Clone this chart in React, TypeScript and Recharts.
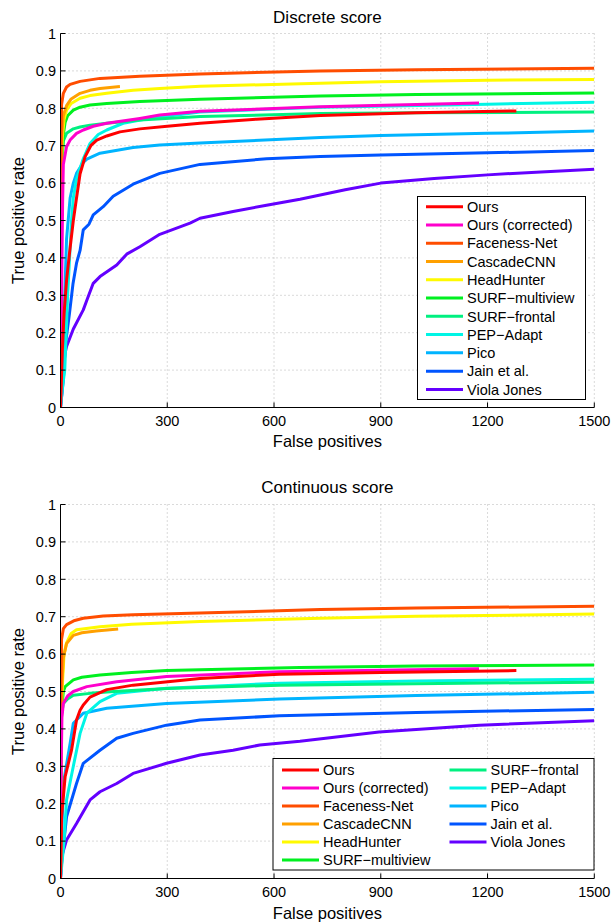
import React from 'react';
import { LineChart, Line, XAxis, YAxis, CartesianGrid } from 'recharts';

type Pt = [number, number];

const FONT = '"Liberation Sans", Arial, Helvetica, sans-serif';

const SERIES_NAMES = [
  'Ours',
  'Ours (corrected)',
  'Faceness-Net',
  'CascadeCNN',
  'HeadHunter',
  'SURF\u2212multiview',
  'SURF\u2212frontal',
  'PEP\u2212Adapt',
  'Pico',
  'Jain et al.',
  'Viola Jones',
];

const SERIES_COLORS = [
  '#FF0000',
  '#FF00CC',
  '#FF4D00',
  '#FFA000',
  '#FFFA00',
  '#00F020',
  '#00F080',
  '#00F5E5',
  '#00B4FF',
  '#0055FF',
  '#6400FF',
];

const X_TICKS = [0, 300, 600, 900, 1200, 1500];
const Y_TICKS = [0, 0.1, 0.2, 0.3, 0.4, 0.5, 0.6, 0.7, 0.8, 0.9, 1];

// ---------- Discrete score ----------
const OURS_D: Pt[] = [[0,0],[5,0.15],[10,0.25],[17,0.34],[25,0.41],[36,0.5],[45,0.56],[55,0.625],[69,0.67],[85,0.7],[102,0.715],[130,0.726],[167,0.737],[223,0.745],[300,0.752],[392,0.76],[550,0.771],[730,0.781],[1000,0.788],[1281,0.793]];
const OURSC_D: Pt[] = [[0,0],[3,0.3],[6,0.55],[8,0.65],[17,0.697],[27,0.715],[45,0.733],[64,0.742],[92,0.752],[130,0.76],[223,0.773],[279,0.782],[392,0.792],[730,0.804],[1000,0.81],[1176,0.814]];
const FACENESS_D: Pt[] = [[0,0],[1,0.6],[2,0.75],[3,0.81],[8,0.84],[17,0.857],[27,0.864],[55,0.872],[111,0.88],[223,0.886],[392,0.892],[730,0.9],[1000,0.903],[1500,0.907]];
const CASCADE_D: Pt[] = [[0,0],[1,0.55],[3,0.72],[8,0.78],[17,0.807],[30,0.825],[55,0.84],[83,0.848],[111,0.853],[167,0.858]];
const HEADHUNTER_D: Pt[] = [[0,0],[2,0.6],[5,0.72],[10,0.77],[17,0.795],[30,0.813],[55,0.827],[83,0.834],[130,0.84],[204,0.848],[279,0.853],[392,0.859],[730,0.867],[900,0.871],[1200,0.875],[1500,0.877]];
const SURFM_D: Pt[] = [[0,0],[2,0.55],[5,0.68],[8,0.73],[13,0.762],[20,0.78],[36,0.795],[55,0.803],[83,0.809],[130,0.813],[223,0.818],[392,0.824],[730,0.833],[1000,0.837],[1500,0.841]];
const SURFF_D: Pt[] = [[0,0],[2,0.5],[4,0.65],[8,0.713],[17,0.733],[36,0.745],[55,0.75],[83,0.755],[130,0.76],[223,0.769],[392,0.778],[730,0.786],[1000,0.788],[1500,0.79]];
const PEP_D: Pt[] = [[0,0],[5,0.05],[12,0.1],[20,0.3],[31,0.5],[36,0.56],[45,0.61],[55,0.64],[64,0.665],[83,0.706],[106,0.73],[130,0.742],[176,0.76],[251,0.773],[392,0.79],[730,0.803],[1200,0.811],[1500,0.816]];
const PICO_D: Pt[] = [[0,0],[5,0.05],[8,0.1],[12,0.3],[17,0.45],[27,0.56],[36,0.6],[45,0.626],[64,0.655],[74,0.664],[111,0.68],[204,0.695],[279,0.702],[392,0.707],[730,0.722],[900,0.727],[1200,0.733],[1500,0.739]];
const JAIN_D: Pt[] = [[0,0],[8,0.074],[13,0.163],[25,0.25],[35,0.33],[45,0.386],[55,0.42],[64,0.475],[80,0.49],[92,0.515],[120,0.537],[148,0.565],[204,0.597],[279,0.626],[392,0.65],[579,0.665],[730,0.671],[900,0.675],[1200,0.681],[1500,0.687]];
const VJ_D: Pt[] = [[0,0],[3,0.07],[13,0.145],[17,0.163],[36,0.21],[64,0.261],[74,0.287],[92,0.332],[111,0.35],[158,0.381],[186,0.41],[223,0.43],[279,0.463],[364,0.493],[392,0.506],[485,0.524],[579,0.541],[673,0.557],[800,0.582],[900,0.6],[1050,0.612],[1200,0.622],[1350,0.63],[1500,0.637]];

// ---------- Continuous score ----------
const OURS_C: Pt[] = [[0,0],[3,0.165],[13,0.272],[31,0.343],[45,0.424],[55,0.45],[64,0.464],[83,0.485],[111,0.497],[130,0.505],[204,0.517],[392,0.535],[615,0.546],[900,0.551],[1281,0.556]];
const OURSC_C: Pt[] = [[0,0],[2,0.3],[4,0.43],[8,0.468],[20,0.488],[36,0.5],[74,0.513],[158,0.526],[298,0.54],[615,0.553],[900,0.557],[1176,0.561]];
const FACENESS_C: Pt[] = [[0,0],[1,0.5],[3,0.64],[8,0.668],[17,0.679],[40,0.69],[64,0.696],[120,0.702],[204,0.705],[392,0.71],[730,0.719],[1000,0.723],[1500,0.728]];
const CASCADE_C: Pt[] = [[0,0],[2,0.4],[3,0.5],[8,0.59],[17,0.628],[36,0.65],[60,0.657],[100,0.662],[162,0.667]];
const HEADHUNTER_C: Pt[] = [[0,0],[2,0.3],[3,0.46],[6,0.53],[10,0.6],[17,0.63],[30,0.655],[45,0.665],[111,0.673],[200,0.68],[392,0.687],[730,0.696],[1000,0.701],[1500,0.707]];
const SURFM_C: Pt[] = [[0,0],[1,0.3],[3,0.45],[8,0.5],[13,0.513],[36,0.531],[60,0.538],[111,0.544],[200,0.551],[298,0.556],[673,0.564],[1000,0.568],[1500,0.571]];
const SURFF_C: Pt[] = [[0,0],[1,0.3],[3,0.44],[8,0.468],[20,0.48],[36,0.49],[83,0.495],[150,0.5],[300,0.508],[615,0.517],[1000,0.521],[1500,0.525]];
const PEP_C: Pt[] = [[0,0],[5,0.05],[10,0.1],[17,0.21],[36,0.3],[55,0.388],[74,0.442],[111,0.473],[158,0.495],[298,0.509],[615,0.522],[1000,0.528],[1500,0.533]];
const PICO_C: Pt[] = [[0,0],[3,0.1],[8,0.254],[27,0.361],[36,0.415],[55,0.433],[64,0.442],[130,0.455],[298,0.468],[615,0.48],[1000,0.489],[1500,0.498]];
const JAIN_C: Pt[] = [[0,0],[3,0.04],[17,0.165],[45,0.254],[64,0.308],[111,0.343],[158,0.375],[204,0.388],[298,0.41],[392,0.424],[615,0.435],[1000,0.444],[1500,0.452]];
const VJ_C: Pt[] = [[0,0],[3,0.058],[17,0.103],[45,0.147],[83,0.21],[111,0.232],[158,0.254],[204,0.281],[298,0.308],[392,0.33],[485,0.343],[560,0.357],[673,0.367],[895,0.392],[1177,0.41],[1500,0.422]];

const DISCRETE = [OURS_D, OURSC_D, FACENESS_D, CASCADE_D, HEADHUNTER_D, SURFM_D, SURFF_D, PEP_D, PICO_D, JAIN_D, VJ_D];
const CONTINUOUS = [OURS_C, OURSC_C, FACENESS_C, CASCADE_C, HEADHUNTER_C, SURFM_C, SURFF_C, PEP_C, PICO_C, JAIN_C, VJ_C];

const toRows = (pts: Pt[]) => pts.map(([fp, tpr]) => ({ fp, tpr }));

const XTick = (props: any) => {
  const { x, y, payload } = props;
  return (
    <g>
      <line x1={x} x2={x} y1={y} y2={y - 5} stroke="#000" strokeWidth={1} />
      <text x={x} y={y + 18} textAnchor="middle" fontSize={14.5} fontFamily={FONT} fill="#000">
        {String(payload.value)}
      </text>
    </g>
  );
};

const YTick = (props: any) => {
  const { x, y, payload } = props;
  return (
    <g>
      <line x1={x} x2={x + 5} y1={y} y2={y} stroke="#000" strokeWidth={1} />
      <text x={x - 4.5} y={y + 5.2} textAnchor="end" fontSize={14.5} fontFamily={FONT} fill="#000">
        {String(payload.value)}
      </text>
    </g>
  );
};

const PLOT_W = 613;
const AXIS_H = 30;

function RocChart({ series, top, marginTop, height }: { series: Pt[][]; top: number; marginTop: number; height: number }) {
  const order = series.map((_, i) => i).reverse();
  return (
    <div style={{ position: 'absolute', left: 0, top }}>
      <LineChart
        width={PLOT_W}
        height={height}
        margin={{ top: marginTop, right: 18.7, left: 0, bottom: height - marginTop - 374 - AXIS_H }}
      >
        <CartesianGrid stroke="#b4b4b4" strokeDasharray="1 3" />
        <XAxis
          type="number"
          dataKey="fp"
          domain={[0, 1500]}
          ticks={X_TICKS}
          height={AXIS_H}
          tickSize={0}
          tickMargin={0}
          tickLine={false}
          axisLine={{ stroke: '#000', strokeWidth: 1 }}
          tick={<XTick />}
          allowDataOverflow
        />
        <YAxis
          type="number"
          domain={[0, 1]}
          ticks={Y_TICKS}
          width={60.5}
          tickSize={0}
          tickMargin={0}
          tickLine={false}
          axisLine={{ stroke: '#000', strokeWidth: 1 }}
          tick={<YTick />}
          allowDataOverflow
        />
        {order.map((i) => (
          <Line
            key={SERIES_NAMES[i]}
            name={SERIES_NAMES[i]}
            data={toRows(series[i])}
            dataKey="tpr"
            type="linear"
            stroke={SERIES_COLORS[i]}
            strokeWidth={3}
            strokeLinejoin="round"
            dot={false}
            activeDot={false}
            isAnimationActive={false}
          />
        ))}
      </LineChart>
    </div>
  );
}

function LegendEntry({ i, x, cy }: { i: number; x: number; cy: number }) {
  return (
    <g>
      <line x1={x} x2={x + 37} y1={cy} y2={cy} stroke={SERIES_COLORS[i]} strokeWidth={3} />
      <text x={x + 41} y={cy + 5.2} fontSize={14.5} fontFamily={FONT} fill="#000">
        {SERIES_NAMES[i]}
      </text>
    </g>
  );
}

function Overlay() {
  const cx = (60.5 + 594.3) / 2;
  return (
    <svg
      width={613}
      height={922}
      style={{ position: 'absolute', left: 0, top: 0, pointerEvents: 'none' }}
    >
      <text x={cx} y={22.6} textAnchor="middle" fontSize={17} fontFamily={FONT} fill="#000">Discrete score</text>
      <text x={cx} y={493.3} textAnchor="middle" fontSize={17} fontFamily={FONT} fill="#000">Continuous score</text>
      <text x={cx} y={447} textAnchor="middle" fontSize={16.5} fontFamily={FONT} fill="#000">False positives</text>
      <text x={cx} y={918.5} textAnchor="middle" fontSize={16.5} fontFamily={FONT} fill="#000">False positives</text>
      <text x={0} y={0} transform="translate(24,220.5) rotate(-90)" textAnchor="middle" fontSize={16.5} fontFamily={FONT} fill="#000">True positive rate</text>
      <text x={0} y={0} transform="translate(24,691.5) rotate(-90)" textAnchor="middle" fontSize={16.5} fontFamily={FONT} fill="#000">True positive rate</text>

      <rect x={417.5} y={196.5} width={168} height={203} fill="#fff" stroke="#000" strokeWidth={1} />
      {SERIES_NAMES.map((_, i) => (
        <LegendEntry key={'t' + i} i={i} x={426} cy={206.7 + i * 18.27} />
      ))}

      <rect x={273} y={758.5} width={321} height={111.5} fill="#fff" stroke="#000" strokeWidth={1} />
      {SERIES_NAMES.map((_, i) =>
        i < 6 ? (
          <LegendEntry key={'b' + i} i={i} x={282} cy={770 + i * 18} />
        ) : (
          <LegendEntry key={'b' + i} i={i} x={449.5} cy={770 + (i - 6) * 18} />
        )
      )}
    </svg>
  );
}

export default function App() {
  return (
    <div style={{ position: 'absolute', left: 0, top: 0, width: 613, height: 922, background: '#fff' }}>
      <RocChart series={DISCRETE} top={0} marginTop={33.5} height={460} />
      <RocChart series={CONTINUOUS} top={470} marginTop={34.5} height={452} />
      <Overlay />
    </div>
  );
}
